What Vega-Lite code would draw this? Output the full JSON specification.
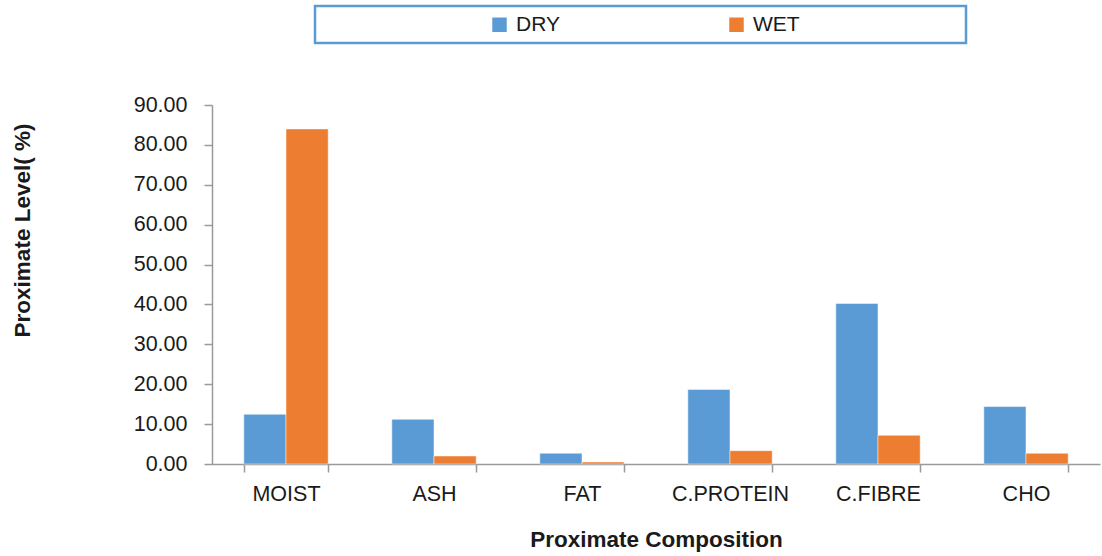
{
  "$schema": "https://vega.github.io/schema/vega-lite/v6.json",
  "width": 888,
  "height": 359,
  "autosize": {"type": "none"},
  "padding": {"left": 212, "top": 105, "right": 2, "bottom": 92},
  "background": "white",
  "config": {
    "view": {"stroke": null},
    "font": "Liberation Sans",
    "legend": {"strokeWidth": 2.5}
  },
  "data": {
    "values": [
      {"component": "MOIST", "type": "DRY", "value": 12.47},
      {"component": "MOIST", "type": "WET", "value": 84.0},
      {"component": "ASH", "type": "DRY", "value": 11.2},
      {"component": "ASH", "type": "WET", "value": 2.0},
      {"component": "FAT", "type": "DRY", "value": 2.7},
      {"component": "FAT", "type": "WET", "value": 0.5},
      {"component": "C.PROTEIN", "type": "DRY", "value": 18.7},
      {"component": "C.PROTEIN", "type": "WET", "value": 3.35},
      {"component": "C.FIBRE", "type": "DRY", "value": 40.25},
      {"component": "C.FIBRE", "type": "WET", "value": 7.2},
      {"component": "CHO", "type": "DRY", "value": 14.4},
      {"component": "CHO", "type": "WET", "value": 2.7}
    ]
  },
  "mark": {"type": "bar", "stroke": "white", "strokeWidth": 0.8, "strokeOpacity": 0.6},
  "encoding": {
    "x": {
      "field": "component",
      "type": "nominal",
      "sort": ["MOIST", "ASH", "FAT", "C.PROTEIN", "C.FIBRE", "CHO"],
      "scale": {"paddingInner": 0.43, "paddingOuter": 0.215},
      "axis": {
        "title": "Proximate Composition",
        "titleFontSize": 22.5,
        "titleFontWeight": "bold",
        "titleColor": "#1a1a1a",
        "titlePadding": 24,
        "labelAngle": 0,
        "labelFontSize": 21.5,
        "labelColor": "#1a1a1a",
        "labelPadding": 11,
        "tickBand": "extent",
        "tickSize": 8,
        "tickColor": "#9a9a9a",
        "domainColor": "#9a9a9a",
        "domainWidth": 1.5,
        "tickWidth": 1.5
      }
    },
    "xOffset": {
      "field": "type",
      "sort": ["DRY", "WET"],
      "scale": {"paddingInner": 0, "paddingOuter": 0}
    },
    "y": {
      "field": "value",
      "type": "quantitative",
      "scale": {"domain": [0, 90], "nice": false},
      "axis": {
        "title": "Proximate Level( %)",
        "titleFontSize": 22.5,
        "titleFontWeight": "bold",
        "titleColor": "#1a1a1a",
        "titleAngle": -90,
        "titleAlign": "center",
        "titleBaseline": "middle",
        "titleX": -190,
        "titleY": 125,
        "values": [0, 10, 20, 30, 40, 50, 60, 70, 80, 90],
        "format": ".2f",
        "grid": false,
        "labelFontSize": 21.5,
        "labelColor": "#1a1a1a",
        "labelPadding": 17,
        "tickSize": 8,
        "tickColor": "#9a9a9a",
        "domainColor": "#9a9a9a",
        "domainWidth": 1.5,
        "tickWidth": 1.5
      }
    },
    "color": {
      "field": "type",
      "type": "nominal",
      "scale": {"domain": ["DRY", "WET"], "range": ["#5B9BD5", "#ED7D31"]},
      "legend": {
        "title": null,
        "orient": "none",
        "direction": "horizontal",
        "legendX": 103,
        "legendY": -99,
        "padding": 8,
        "strokeColor": "#5B9BD5",
        "fillColor": "white",
        "symbolType": "square",
        "symbolSize": 210,
        "symbolStrokeWidth": 0,
        "symbolOffset": 166,
        "labelFontSize": 21,
        "labelColor": "#1a1a1a",
        "labelOffset": 6,
        "labelLimit": 400,
        "columnPadding": -4,
        "labelExpr": "datum.label == 'WET' ? 'WET\u00a0\u00a0\u00a0\u00a0\u00a0\u00a0\u00a0\u00a0\u00a0\u00a0\u00a0\u00a0\u00a0\u00a0\u00a0\u00a0\u00a0\u00a0\u00a0\u00a0\u00a0\u00a0\u00a0\u00a0\u00a0\u00a0\u00a0\u200b' : datum.label",
        "encode": {"legend": {"update": {"strokeWidth": {"value": 2.5}}}}
      }
    }
  }
}
